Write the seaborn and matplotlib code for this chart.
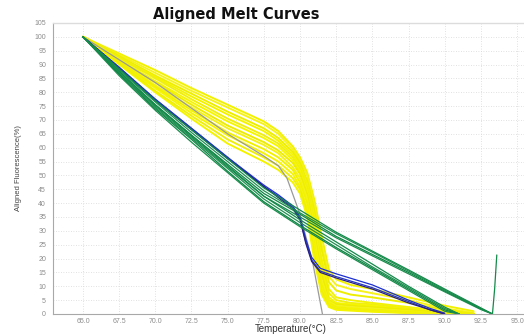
import numpy as np
import pandas as pd
import matplotlib
matplotlib.use("Agg")
import matplotlib.pyplot as plt
import seaborn as sns

# ---- melt curve data (temperature in °C, aligned fluorescence in %) ----
temp_yellow = [65, 67.5, 70, 72.5, 75, 77.5, 78.5, 79.5, 80, 80.5, 81, 81.5, 82, 82.5, 83.5, 85, 87.5, 90, 92]
yellow_1 = [100, 94, 88, 81.5, 75.5, 69.5, 66, 60.5, 56.5, 51, 41, 28, 16, 12.5, 10.5, 9, 6, 3, 1]
yellow_2 = [100, 93.5, 87, 80.5, 74.5, 68.5, 65, 59.5, 55.5, 50, 39, 25, 13.5, 10.5, 9, 7.5, 5, 2, 0.5]
yellow_3 = [100, 93, 86, 79.5, 73, 67, 63.5, 58.5, 54.5, 48, 37, 23, 11.5, 8.5, 7, 6, 4, 1.5, 0]
yellow_4 = [100, 92.5, 85.5, 78.5, 72, 66, 62.5, 57.5, 53.5, 47, 35, 20, 9, 6, 5, 4, 2.5, 1, 0]
yellow_5 = [100, 92.5, 85, 77.5, 70.5, 64.5, 61.5, 56.5, 52.5, 45.5, 33, 18, 7.5, 5, 4, 3.5, 2, 0.5, 0]
yellow_6 = [100, 92, 84, 76.5, 69.5, 63.5, 60.5, 55.5, 51.5, 44, 31, 16, 6, 4, 3.5, 3, 1.5, 0.5, 0]
yellow_7 = [100, 91.5, 83.5, 75.5, 68, 62, 59, 54.5, 50.5, 43, 29, 14, 5, 3.5, 3, 2.5, 1.5, 0.3, 0]
yellow_8 = [100, 91.5, 82.5, 74.5, 67, 61, 58, 53, 49, 41.5, 27, 12, 4.5, 3, 2.5, 2, 1, 0, 0]
yellow_9 = [100, 91, 82, 73.5, 65.5, 59.5, 56.5, 52, 47.5, 40, 25, 10.5, 4, 2.5, 2, 1.5, 0.8, 0, 0]
yellow_10 = [100, 90.5, 81.5, 72.5, 64.5, 58, 55, 50.5, 46, 38, 23, 9, 3.5, 2, 1.7, 1.3, 0.6, 0, 0]
yellow_11 = [100, 90.5, 80.5, 71.5, 63, 56.5, 53.5, 49, 45, 36.5, 21, 8, 3, 1.8, 1.5, 1, 0.5, 0, 0]
yellow_12 = [100, 90, 80, 70.5, 61.5, 55, 52, 47.5, 43.5, 35, 19, 7, 2.5, 1.5, 1.2, 0.8, 0.3, 0, 0]

temp_grey = [65, 70, 75, 77.5, 78.5, 79.1, 80, 80.9, 81.55]
grey_1 = [100, 83.5, 65, 57, 53.5, 49, 36, 18, 0]

temp_blue = [65, 67.5, 70, 72.5, 75, 77.5, 78.5, 79.5, 80, 80.4, 80.8, 81.4, 82.5, 85, 87.5, 89, 90]
blue_1 = [100, 89, 77.5, 67, 56.5, 46.5, 43, 39, 35, 27, 20.5, 16.5, 14.5, 10.5, 5, 2, 0.3]
blue_2 = [100, 89, 77.5, 67, 56.5, 46, 42.5, 38.5, 34.5, 26, 19.5, 15.5, 13.5, 9.5, 4.5, 1.5, 0]
navy_1 = [100, 88.5, 77, 66.5, 56, 46, 42, 38, 34, 25.5, 19, 15, 13, 9, 4, 1.5, 0]

temp_green_a = [65, 67.5, 70, 72.5, 75, 77.5, 80, 82.5, 85, 87.5, 90, 92.5, 93.3, 93.45, 93.6]
green_a1 = [100, 88.5, 77, 66.5, 56, 45.5, 37.5, 29.5, 22.7, 15.9, 9, 2.2, 0, 9, 21.3]
green_a2 = [100, 88, 76.5, 65.5, 55, 44.5, 36.5, 29, 22.3, 15.5, 8.7, 2, 0, None, None]
green_a3 = [100, 87.5, 75.5, 64.5, 54, 43.5, 36, 28, 21.5, 15, 8.3, 1.8, 0, None, None]
green_a4 = [100, 87, 75, 64, 53, 42.5, 35, 27.5, 21, 14.5, 8, 1.6, 0, None, None]

temp_green_b = [65, 67.5, 70, 72.5, 75, 77.5, 80, 82.5, 85, 87.5, 90, 91]
green_b1 = [100, 87.5, 75.5, 64.5, 53.5, 42.5, 34, 26, 18, 10, 2.5, 0]
green_b2 = [100, 87, 74.5, 63.5, 52.5, 41.5, 33, 25, 17, 9.5, 2, 0]
green_b3 = [100, 86.5, 74, 63, 51.5, 40.5, 32, 24, 16.5, 9, 1.5, 0]
green_b4 = [100, 86, 73.5, 62, 51, 40, 31.5, 23.5, 16, 8.5, 1, 0]

x_ticks = [65.0, 67.5, 70.0, 72.5, 75.0, 77.5, 80.0, 82.5, 85.0, 87.5, 90.0, 92.5, 95.0]
y_ticks = list(range(0, 110, 5))

# ---- long-form table, one row per point ----
curves = [
    ("Y1", temp_yellow, yellow_1, "#f2f200"), ("Y2", temp_yellow, yellow_2, "#f6f21a"),
    ("Y3", temp_yellow, yellow_3, "#eeee00"), ("Y4", temp_yellow, yellow_4, "#f4f400"),
    ("Y5", temp_yellow, yellow_5, "#f0ee10"), ("Y6", temp_yellow, yellow_6, "#f6f600"),
    ("Y7", temp_yellow, yellow_7, "#eeec00"), ("Y8", temp_yellow, yellow_8, "#f4f21a"),
    ("Y9", temp_yellow, yellow_9, "#f2f200"), ("Y10", temp_yellow, yellow_10, "#f6f400"),
    ("Y11", temp_yellow, yellow_11, "#eeee10"), ("Y12", temp_yellow, yellow_12, "#f4f400"),
    ("K1", temp_grey, grey_1, "#9a9a9a"),
    ("B1", temp_blue, blue_1, "#1c2fd0"), ("B2", temp_blue, blue_2, "#2236c8"),
    ("B3", temp_blue, navy_1, "#2a2080"),
    ("GA1", temp_green_a, green_a1, "#138a4a"), ("GA2", temp_green_a, green_a2, "#1d9050"),
    ("GA3", temp_green_a, green_a3, "#0f8444"), ("GA4", temp_green_a, green_a4, "#1a8c4c"),
    ("GB1", temp_green_b, green_b1, "#138a4a"), ("GB2", temp_green_b, green_b2, "#1d9050"),
    ("GB3", temp_green_b, green_b3, "#0f8444"), ("GB4", temp_green_b, green_b4, "#1a8c4c"),
]
rows = []
for name, ts, vs, _ in curves:
    for t, v in zip(ts, vs):
        if v is not None:
            rows.append({"curve": name, "temp": t, "value": v})
df = pd.DataFrame(rows)
palette = {name: col for name, _, _, col in curves}
widths = {name: (1.4 if name.startswith("Y") else 0.9) for name, _, _, _ in curves}

sns.set_theme(style="white")
plt.rcParams["font.family"] = ["Liberation Sans", "DejaVu Sans"]

fig = plt.figure(figsize=(5.24, 3.34), dpi=100)
ax = fig.add_axes([53 / 524, 1 - 314 / 334, (524 - 53) / 524, (314 - 23) / 334])

sns.lineplot(data=df, x="temp", y="value", hue="curve", units="curve",
             estimator=None, sort=False, palette=palette,
             hue_order=[c[0] for c in curves], linewidth=0.9,
             legend=False, ax=ax)
for line, (name, _, _, _) in zip(ax.get_lines(), curves):
    line.set_linewidth(widths[name])

ax.set_xlim(62.93, 95.48)
ax.set_ylim(0, 105)
ax.set_xticks(x_ticks)
ax.set_xticklabels([f"{t:.1f}" for t in x_ticks])
ax.set_yticks(y_ticks)
ax.grid(True, color="#d8d8d8", linestyle=(0, (1, 2)), linewidth=0.6)
ax.set_axisbelow(True)

for side in ("left", "bottom"):
    ax.spines[side].set_color("#a8a8a8")
    ax.spines[side].set_linewidth(0.8)
ax.spines["top"].set_color("#dcdcdc")
ax.spines["top"].set_linewidth(1.0)
ax.spines["right"].set_visible(False)

ax.tick_params(axis="both", labelsize=5, colors="#8c8c8c", length=2, width=0.5)
ax.tick_params(axis="y", pad=3)
ax.tick_params(axis="x", pad=1)

ax.set_xlabel("Temperature(°C)", fontsize=7, color="#333333", labelpad=0)
ax.xaxis.set_label_coords(0.505, -0.035)
ax.set_ylabel("Aligned Fluorescence(%)", fontsize=5.5, color="#444444")
ax.yaxis.set_label_coords(-0.065, 0.5)

fig.text(236 / 524, 1 - 14 / 334, "Aligned Melt Curves", ha="center", va="center",
         fontsize=10.5, fontweight="bold", color="#111111",
         family=["DejaVu Sans"])

fig.savefig("out.png", dpi=100)
